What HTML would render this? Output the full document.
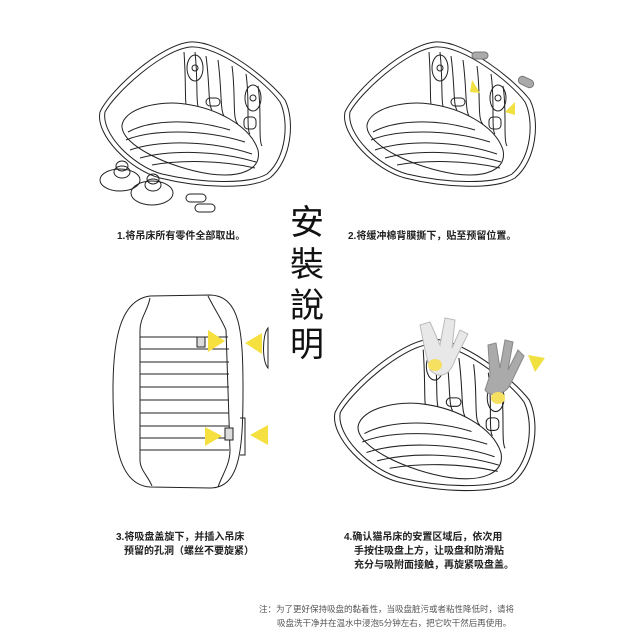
<!DOCTYPE html>
<html><head><meta charset="utf-8"><style>
html,body{margin:0;padding:0;background:#fff;}
body{width:640px;height:640px;position:relative;overflow:hidden;font-family:"Liberation Sans","Noto Sans CJK SC",sans-serif;}
.t{position:absolute;font-size:10px;color:#222;font-weight:bold;white-space:nowrap;}
.n{position:absolute;font-size:8.5px;color:#555;white-space:nowrap;}
.big{position:absolute;left:290px;font-size:34px;color:#111;font-family:"Noto Sans CJK TC","Noto Sans CJK SC",sans-serif;line-height:40px;}
</style></head><body>
<svg width="640" height="640" style="position:absolute;left:0;top:0" fill="none" stroke="#222" stroke-width="1">
<defs>
<g id="bed">
<path d="M100,112 C110,90 160,45 190,42 C220,40 270,80 285,100 C295,120 292,160 270,178 C250,190 200,188 160,178 C130,170 95,135 100,112 Z"/>
<path d="M105,112 C115,93 162,50 190,47 C218,45 266,82 280,102 C289,120 287,157 267,174 C248,185 200,183 162,174 C133,166 101,134 105,112 Z"/>
<path d="M122,125 C125,108 160,100 185,104 C215,108 250,125 258,150 C262,170 240,178 210,174 C170,168 120,145 122,125 Z"/>
<path d="M184,52 C186,80 185,100 186,104 M195,52 C198,80 196,100 198,106 M206,56 C210,85 208,105 212,110 M218,60 C222,90 220,110 224,116 M232,66 C236,95 232,120 238,124 M246,74 C250,100 246,130 250,134 M258,86 C262,110 258,140 262,146"/>
<path d="M128,132 C150,120 190,118 230,130 M126,140 C150,130 200,128 245,142 M130,150 C160,140 210,140 252,154 M140,158 C170,150 215,150 256,162 M152,165 C180,160 220,160 255,168"/>
<ellipse cx="195" cy="68" rx="8" ry="13"/><circle cx="195" cy="68" r="3"/>
<ellipse cx="253" cy="98" rx="8" ry="13"/><circle cx="253" cy="98" r="3"/>
<rect x="206" y="98" width="14" height="8" rx="4"/><rect x="244" y="117" width="12" height="12" rx="4"/>
</g>
</defs>
<use href="#bed"/>
<use href="#bed" transform="translate(245,0)"/>
<use href="#bed" transform="translate(230,295) scale(1.05)"/>
<!-- suction cups -->
<ellipse cx="120" cy="180" rx="20" ry="11"/><ellipse cx="122" cy="172" rx="8" ry="6"/><ellipse cx="122" cy="166" rx="6" ry="5"/>
<ellipse cx="152" cy="193" rx="21" ry="12"/><ellipse cx="153" cy="185" rx="8" ry="6"/><ellipse cx="153" cy="179" rx="6" ry="5"/>
<rect x="186" y="194" width="20" height="8" rx="4"/><rect x="195" y="204" width="20" height="8" rx="4"/>
<!-- gray pads top right -->
<rect x="472" y="52" width="16" height="7" rx="3.5" fill="#aaa" stroke="#777"/>
<rect x="518" y="78" width="16" height="8" rx="4" fill="#aaa" stroke="#777" transform="rotate(25 526 82)"/>
<polygon points="472,80 480,93 470,92" fill="#f0e040" stroke="none"/>
<polygon points="505,112 515,102 515,115" fill="#f0e040" stroke="none"/>
<!-- bottom left bed top view -->
<path d="M150,296 C120,300 113,340 113,390 C113,440 118,485 150,487 L210,488 C240,488 243,450 243,390 C243,330 240,296 210,295 Z"/>
<path d="M150,298 C148,310 140,318 140,330 L140,460 C140,470 148,476 152,486 M208,296 C215,310 222,320 226,330 L230,450 C230,465 222,475 218,487"/>
<path d="M140,337 H228 M140,349 H229 M140,362 H229 M140,374 H229 M140,387 H229 M140,400 H229 M140,413 H229 M140,426 H229 M140,438 H229 M140,450 H229"/>
<rect x="197" y="337" width="8" height="10" fill="#ddd"/><rect x="225" y="428" width="8" height="12" fill="#ddd"/>
<path d="M240,418 H245 V455 H240"/>
<path d="M268,328 C262,335 262,362 268,368 Z"/>
<polygon points="208,330 225,341 208,352" fill="#f5e040" stroke="none"/>
<polygon points="262,333 245,343 262,354" fill="#f5e040" stroke="none"/>
<polygon points="205,427 222,436 205,446" fill="#f5e040" stroke="none"/>
<polygon points="268,425 250,435 268,445" fill="#f5e040" stroke="none"/>
<!-- hands -->
<path d="M425,350 L420,325 L430,322 L440,345 L445,318 L455,320 L452,348 L460,330 L468,334 L455,360 C450,375 440,380 430,370 Z" fill="#e8e8e8" stroke="#bbb"/>
<path d="M490,375 L488,345 L496,343 L500,368 L505,340 L513,342 L508,370 L518,350 L524,356 L510,385 C505,395 490,398 485,390 Z" fill="#aaa" stroke="#888"/>
<polygon points="528,355 545,358 535,372" fill="#f0e040" stroke="none"/>
<ellipse cx="435" cy="365" rx="7" ry="6" fill="#f5e060" stroke="none"/>
<ellipse cx="498" cy="398" rx="7" ry="6" fill="#f5e060" stroke="none"/>
</svg>
<div class="t" style="left:117px;top:227px">1.将吊床所有零件全部取出。</div>
<div class="t" style="left:348px;top:227px">2.将缓冲棉背膜撕下，贴至预留位置。</div>
<div class="big" style="top:200px">安</div>
<div class="big" style="top:242px">裝</div>
<div class="big" style="top:283px">說</div>
<div class="big" style="top:322px">明</div>
<div class="t" style="left:116px;top:528px">3.将吸盘盖旋下，并插入吊床</div>
<div class="t" style="left:124px;top:542px">预留的孔洞（螺丝不要旋紧）</div>
<div class="t" style="left:344px;top:528px">4.确认猫吊床的安置区域后，依次用</div>
<div class="t" style="left:354px;top:542px">手按住吸盘上方，让吸盘和防滑贴</div>
<div class="t" style="left:354px;top:556px">充分与吸附面接触，再旋紧吸盘盖。</div>
<div class="n" style="left:259px;top:603px">注：为了更好保持吸盘的黏着性，当吸盘脏污或者粘性降低时，请将</div>
<div class="n" style="left:277px;top:617px">吸盘洗干净并在温水中浸泡5分钟左右，把它吹干然后再使用。</div>
</body></html>
